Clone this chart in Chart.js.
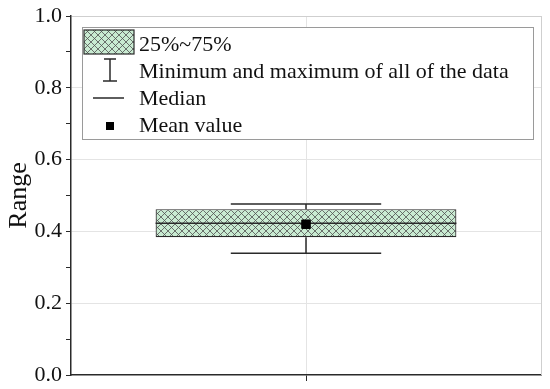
<!DOCTYPE html>
<html>
<head>
<meta charset="utf-8">
<title>Range box plot</title>
<script src="https://cdn.jsdelivr.net/npm/chart.js@4/dist/chart.umd.min.js"></script>
<style>
  html, body { margin: 0; padding: 0; background: #fff; }
  canvas { display: block; }
</style>
</head>
<body>
<canvas id="chart" width="550" height="389"></canvas>
<script>
// ── data ────────────────────────────────────────────────────────────────
const categories = [''];
const q1Values     = [0.384];
const q3Values     = [0.462];
const medianValues = [0.423];
const minValues    = [0.339];
const maxValues    = [0.476];
const meanValues   = [0.420];
const legendLabels = ['25%~75%', 'Minimum and maximum of all of the data', 'Median', 'Mean value'];

// ── style ───────────────────────────────────────────────────────────────
const FONT = '"Liberation Serif", "Times New Roman", serif';
const BOX_FILL = '#c9ebd2';
const HATCH = '#505050';
const DARK = '#2a2a2a';
const GRID = '#e4e4e4';

function hatchPattern(ctx) {
  const s = 7;
  const c = document.createElement('canvas');
  c.width = s; c.height = s;
  const g = c.getContext('2d');
  g.fillStyle = BOX_FILL;
  g.fillRect(0, 0, s, s);
  g.strokeStyle = HATCH;
  g.lineWidth = 0.8;
  g.beginPath();
  g.moveTo(0, 0); g.lineTo(s, s);
  g.moveTo(s, 0); g.lineTo(0, s);
  g.stroke();
  return ctx.createPattern(c, 'repeat');
}

const ctx = document.getElementById('chart').getContext('2d');
const pattern = hatchPattern(ctx);

// whiskers + median, drawn right after the box so the mean sits on top
const whiskerPlugin = {
  id: 'whiskers',
  afterDatasetDraw(chart, args) {
    if (args.index !== 0) return;
    const xs = chart.scales.x, ys = chart.scales.y;
    const c = chart.ctx;
    const catW = chart.chartArea.right - chart.chartArea.left;
    const meta = chart.getDatasetMeta(0);
    c.save();
    c.strokeStyle = DARK;
    c.lineWidth = 1.5;
    categories.forEach(function (_, i) {
      const x = xs.getPixelForValue(i);
      const half = meta.data[i].width / 2;
      const capHalf = catW * 0.16;
      const yMin = ys.getPixelForValue(minValues[i]);
      const yMax = ys.getPixelForValue(maxValues[i]);
      const yQ1 = ys.getPixelForValue(q1Values[i]);
      const yQ3 = ys.getPixelForValue(q3Values[i]);
      const yMed = ys.getPixelForValue(medianValues[i]);
      c.beginPath();
      c.moveTo(x, yQ3); c.lineTo(x, yMax);
      c.moveTo(x, yQ1); c.lineTo(x, yMin);
      c.moveTo(x - capHalf, yMax); c.lineTo(x + capHalf, yMax);
      c.moveTo(x - capHalf, yMin); c.lineTo(x + capHalf, yMin);
      c.moveTo(x - half, yMed); c.lineTo(x + half, yMed);
      c.stroke();
    });
    c.restore();
  }
};

// right frame + legend inside the plot
const framePlugin = {
  id: 'frameLegend',
  afterDraw(chart) {
    const c = chart.ctx;
    const a = chart.chartArea;
    c.save();
    c.strokeStyle = '#cfcfcf';
    c.lineWidth = 1;
    c.beginPath();
    c.moveTo(a.right + 0.5, a.top);
    c.lineTo(a.right + 0.5, a.bottom);
    c.stroke();

    // legend box
    const lx = 82, ly = 27, lw = 451, lh = 112;
    c.fillStyle = '#fff';
    c.fillRect(lx, ly, lw, lh);
    c.strokeStyle = '#9a9a9a';
    c.strokeRect(lx + 0.5, ly + 0.5, lw, lh);

    // swatch
    c.fillStyle = pattern;
    c.fillRect(84, 30, 50, 24);
    c.strokeStyle = DARK;
    c.lineWidth = 1.2;
    c.strokeRect(84, 30, 50, 24);

    // whisker icon
    c.lineWidth = 1.5;
    c.beginPath();
    c.moveTo(110, 59); c.lineTo(110, 81);
    c.moveTo(104, 59); c.lineTo(116, 59);
    c.moveTo(103, 81); c.lineTo(117, 81);
    // median icon
    c.moveTo(93, 98); c.lineTo(124, 98);
    c.stroke();
    // mean icon
    c.fillStyle = '#000';
    c.fillRect(106, 122, 8, 8);

    c.fillStyle = '#111';
    c.font = '22px ' + FONT;
    c.textAlign = 'left';
    c.textBaseline = 'middle';
    const rows = [45, 72, 99, 126];
    legendLabels.forEach(function (t, i) { c.fillText(t, 139, rows[i]); });
    c.restore();
  }
};

new Chart(ctx, {
  data: {
    labels: categories,
    datasets: [
      {
        type: 'bar',
        label: legendLabels[0],
        data: q1Values.map(function (v, i) { return [v, q3Values[i]]; }),
        backgroundColor: pattern,
        borderColor: DARK,
        borderWidth: 1.2,
        borderSkipped: false,
        barPercentage: 0.64,
        categoryPercentage: 1,
        order: 2,
      },
      {
        type: 'line',
        label: legendLabels[3],
        data: meanValues,
        showLine: false,
        pointStyle: 'rect',
        pointRadius: 6,
        backgroundColor: '#000',
        borderColor: '#000',
        borderWidth: 1,
        order: 1,
      },
    ],
  },
  options: {
    responsive: false,
    animation: false,
    layout: { padding: { top: 16, right: 9, left: 0, bottom: 0 } },
    plugins: { legend: { display: false }, tooltip: { enabled: false } },
    scales: {
      x: {
        type: 'category',
        offset: true,
        grid: { offset: false, color: GRID, tickColor: DARK, tickLength: 6, drawTicks: true },
        border: { color: DARK, width: 1.5 },
        ticks: { display: true, callback: function () { return ''; }, padding: 0 },
        afterFit: function (s) { s.height = 14; },
      },
      y: {
        min: 0,
        max: 1,
        ticks: {
          stepSize: 0.1,
          color: '#111',
          font: { family: FONT, size: 22 },
          padding: 4,
          callback: function (v) {
            return Math.round(v * 10) % 2 === 0 ? v.toFixed(1) : '';
          },
        },
        grid: {
          color: function (c) {
            const k = Math.round(c.tick.value * 10);
            if (k === 0 || k % 2 !== 0) return 'rgba(0,0,0,0)';
            return k === 10 ? '#cfcfcf' : GRID;
          },
          tickColor: DARK,
          tickLength: 5,
        },
        border: { color: DARK, width: 1.5 },
        title: {
          display: true,
          text: 'Range',
          color: '#111',
          font: { family: FONT, size: 26 },
          padding: { top: 4, bottom: 0 },
        },
        afterFit: function (s) {
          s.width = 71;
          s.paddingBottom = 0;
          s.paddingTop = 0;
        },
      },
    },
  },
  plugins: [whiskerPlugin, framePlugin],
});
</script>
</body>
</html>
